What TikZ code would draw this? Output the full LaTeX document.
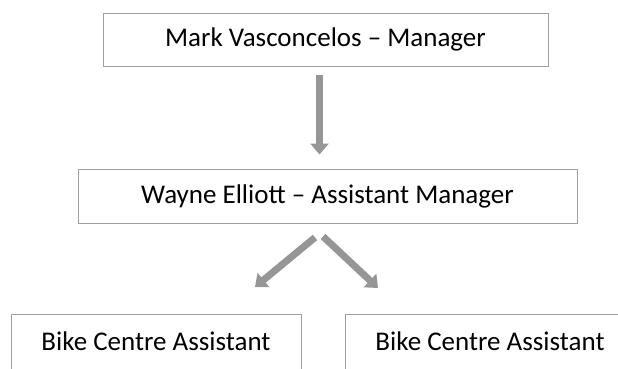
\documentclass[tikz,border=0pt]{standalone}
\usepackage{fontspec}
\setmainfont{Carlito}
\usetikzlibrary{arrows.meta, positioning, calc}
\definecolor{boxline}{RGB}{160, 160, 160}
\definecolor{arrowgray}{RGB}{150, 150, 150}

\begin{document}
\begin{tikzpicture}[x=1pt, y=1pt,
		role/.style={rectangle, draw=boxline, line width=0.9pt, inner sep=0pt,
			font=\fontsize{27}{31}\selectfont},
		base/.style={role, minimum width=290pt, inner ysep=0pt,
			text height=36pt, text depth=52pt},
		link/.style={-{Triangle[width=18pt, length=11pt]}, line width=7pt, draw=arrowgray}
		]
		\clip (0,0) rectangle (618,-369);
		% Postes
		\node[role, minimum width=445pt, minimum height=53pt] (mgr) at (325.5,-39.5) {Mark Vasconcelos – Manager};
		\node[role, minimum width=499pt, minimum height=54pt] (asst) at (327.5,-196) {Wayne Elliott – Assistant Manager};
		\node[base, anchor=north] (bca1) at (156,-314) {Bike Centre Assistant};
		\node[base, anchor=north] (bca2) at (490,-314) {Bike Centre Assistant};
		
		% Fleches
		\draw[link] ($(mgr.south)+(-6,-9)$) -- ($(asst.north)+(-8,14)$);
		\draw[link] ($(asst.south)+(-12.5,-14)$) -- ($(bca1.north)+(99,27)$);
		\draw[link] ($(asst.south)+(-4.5,-13)$) -- ($(bca2.north)+(-112,26)$);
	\end{tikzpicture}
\end{document}
